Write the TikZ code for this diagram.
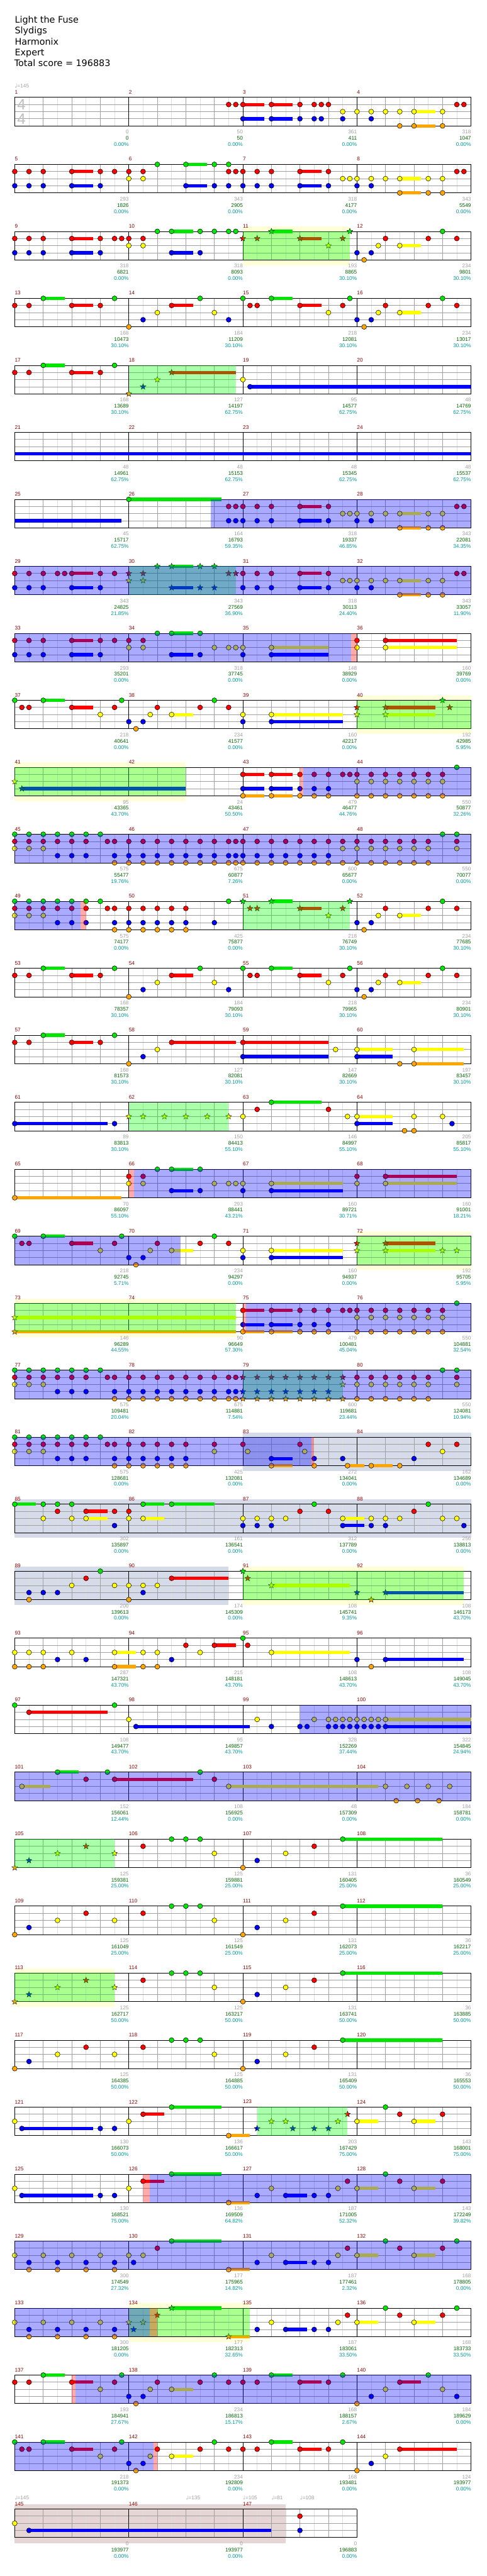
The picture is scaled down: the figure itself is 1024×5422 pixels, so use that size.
\documentclass[tikz,border=0pt]{standalone}
\usepackage{fontspec}
\setmainfont{Liberation Sans}
\newfontfamily\djv{DejaVu Sans}
\usetikzlibrary{shapes.geometric}
\definecolor{cG}{RGB}{0,230,0}
\definecolor{cR}{RGB}{255,0,0}
\definecolor{cY}{RGB}{255,255,0}
\definecolor{cB}{RGB}{0,0,255}
\definecolor{cO}{RGB}{255,165,0}
\definecolor{lgray}{RGB}{160,160,160}
\definecolor{dgreen}{RGB}{0,100,0}
\definecolor{tealc}{RGB}{0,153,153}
\definecolor{mred}{RGB}{139,0,0}
\definecolor{hbc}{RGB}{222,222,222}
\definecolor{btc}{RGB}{160,160,160}
\definecolor{band}{RGB}{255,255,215}
\definecolor{gband}{RGB}{213,219,232}
\definecolor{rband}{RGB}{230,213,213}
\definecolor{tsg}{RGB}{190,190,190}
\tikzset{
  hb/.style={draw=hbc,line width=1},
  bt/.style={draw=btc,line width=1},
  ms/.style={draw=black,line width=1},
  mnum/.style={anchor=west,inner sep=0,text=mred,font=\fontsize{11}{11}\selectfont},
  lg/.style={anchor=east,inner sep=0,text=lgray,font=\fontsize{11}{11}\selectfont},
  lgr/.style={anchor=east,inner sep=0,text=dgreen,font=\fontsize{11}{11}\selectfont},
  ltl/.style={anchor=east,inner sep=0,text=tealc,font=\fontsize{11}{11}\selectfont},
  stn/.style={star,star points=5,star point ratio=2.3,minimum size=13pt,inner sep=0,draw=black,line width=0.5},
  ttl/.style={anchor=base west,inner sep=0,font=\djv\fontsize{19}{19}\selectfont},
  tmp/.style={anchor=west,inner sep=0,text=lgray,font=\fontsize{11}{11}\selectfont}
}
\newcommand\setrow[1]{\pgfmathsetmacro\ry{205+141*(#1-1)}}
\newcommand\mkgrid[2]{%
 \pgfmathsetmacro\xe{31+240*#1}%
 \pgfmathtruncatemacro\nh{8*#1-1}%
 \foreach \i in {1,...,\nh} {\draw[hb] ({31+30*\i},{\ry}) -- ++(0,60);}%
 \pgfmathtruncatemacro\nb{4*#1-1}%
 \foreach \i in {1,...,\nb} {\draw[bt] ({31+60*\i},{\ry}) -- ++(0,60);}%
 \foreach \l in {1,2,3} {\draw[bt] (31,{\ry+15*\l}) -- ({\xe},{\ry+15*\l});}%
 \foreach \i in {0,...,#1} {\draw[ms] ({31+240*\i},{\ry}) -- ++(0,60);}%
 \draw[ms] (31,{\ry}) -- ({\xe},{\ry}) (31,{\ry+60}) -- ({\xe},{\ry+60});%
 \pgfmathtruncatemacro\nm{#1-1}%
 \foreach \i in {0,...,\nm} {\pgfmathtruncatemacro\mn{#2+\i}\node[mnum] at ({31+240*\i},{\ry-11}) {\mn};}%
}
\newcommand\bnd[3]{\fill[#1] ({31+15*#2},{\ry-10}) rectangle ({31+15*#3},{\ry+71});}
\newcommand\ovb[2]{\fill[blue,fill opacity=0.333] ({31+15*#1},{\ry}) rectangle ({31+15*#2},{\ry+60});}
\newcommand\ovg[2]{\fill[green,fill opacity=0.333] ({31+15*#1},{\ry}) rectangle ({31+15*#2},{\ry+60});}
\newcommand\ovp[2]{\fill[red,fill opacity=0.333] ({31+15*#1},{\ry}) rectangle ({31+15*#2},{\ry+60});}
\newcommand\sus[4]{\fill[#1] ({31+15*#3},{\ry+15*#2-3.5}) rectangle ({31+15*#4},{\ry+15*#2+3.5});}
\newcommand\nts[3]{\foreach \s in {#3} {\filldraw[fill=#1,draw=black,line width=0.7] ({31+15*\s},{\ry+15*#2}) circle (5.2);}}
\newcommand\strs[3]{\foreach \s in {#3} {\node[stn,fill=#1] at ({31+15*\s},{\ry+15*#2}) {};}}
\newcommand\lbls[1]{\foreach \a/\b/\c [count=\k] in {#1} {%
  \node[lg] at ({31+240*\k},{\ry+73}) {\a};
  \node[lgr] at ({31+240*\k},{\ry+86}) {\b};
  \node[ltl] at ({31+240*\k},{\ry+99}) {\c\%};}}
\newcommand\rowFour{%
 \sus{cG}{0}{4}{7}\sus{cG}{0}{36}{39}\sus{cR}{1}{8}{11}\sus{cR}{1}{22}{25}\sus{cR}{1}{40}{43}\sus{cY}{2}{54}{57}%
 \nts{cG}{0}{4,14,26,32,36,47,60}%
 \nts{cR}{1}{0,2,8,12,22,33,34,40,46,52,58,62}%
 \nts{cY}{2}{20,28,44,51,54}%
 \nts{cB}{3}{18,30,48,50}%
 \nts{cO}{4}{16,49}}
\newcommand\rowStarA{%
 \sus{cG}{0}{46}{60}%
 \strs{cO}{4}{0}\strs{cB}{3}{2}\strs{cY}{2}{6,14}\strs{cR}{1}{10}%
 \nts{cR}{1}{18,42}\nts{cG}{0}{22,24,26,46}\nts{cY}{2}{28,38}\nts{cO}{4}{32}\nts{cB}{3}{34}%
 \ovg{0}{14}}
\newcommand\rowPlainA{%
 \sus{cG}{0}{46}{60}%
 \nts{cO}{4}{0,32}\nts{cB}{3}{2,34}\nts{cY}{2}{6,14,28,38}\nts{cR}{1}{10,18,42}\nts{cG}{0}{22,24,26,46}}
\begin{document}
\begin{tikzpicture}[x=1pt,y=-1pt]
\useasboundingbox (0,0) rectangle (1024,5422);
\fill[white] (0,0) rectangle (1024,5422);
\node[ttl] (t1) at (31,48) {Light the Fuse};
\node[ttl] (t2) at (31,71) {Slydigs};
\node[ttl] (t3) at (31,94) {Harmonix};
\node[ttl] (t4) at (31,117) {Expert};
\node[ttl] (t5) at (30,140) {Total score = 196883};
% row 1
\setrow{1}\mkgrid{4}{1}
\node[tmp] (tempo1) at (31,{\ry-24}) {{\djv ♩}=145};
\node[text=tsg,font=\fontsize{32}{32}\selectfont,inner sep=0] (ts1) at (45,{\ry+15}) {4};
\node[text=tsg,font=\fontsize{32}{32}\selectfont,inner sep=0] (ts2) at (45,{\ry+45}) {4};
\sus{cR}{1}{32}{35}\sus{cR}{1}{36}{39}\sus{cY}{2}{56}{59}\sus{cB}{3}{32}{35}\sus{cB}{3}{36}{39}\sus{cO}{4}{56}{59}
\nts{cR}{1}{30,31,32,36,40,42,43,44,62,63}
\nts{cY}{2}{46,48,50,52,54,56,60}
\nts{cB}{3}{32,36,40,42,43,46,50}
\nts{cO}{4}{54,56,60}
\lbls{0/0/0.00,50/50/0.00,361/411/0.00,318/1047/0.00}
% row 2
\setrow{2}\mkgrid{4}{5}
\sus{cR}{1}{8}{11}\sus{cR}{1}{40}{43}\sus{cB}{3}{8}{11}\sus{cB}{3}{24}{27}\sus{cB}{3}{40}{43}\sus{cG}{0}{24}{27}\sus{cY}{2}{54}{57}\sus{cO}{4}{54}{57}
\nts{cG}{0}{20,24,28,30}
\nts{cR}{1}{0,2,4,8,12,14,16,18,30,31,32,34,36,40,44,62,63}
\nts{cY}{2}{16,18,46,47,48,50,52,54,58,60}
\nts{cB}{3}{0,2,4,8,12,24,28,30,32,34,36,40,44,48,50}
\nts{cO}{4}{54,58,60}
\lbls{293/1826/0.00,343/2905/0.00,318/4177/0.00,343/5549/0.00}
% row 3
\setrow{3}\bnd{band}{32}{47}\mkgrid{4}{9}
\sus{cR}{1}{8}{11}\sus{cR}{1}{40}{43}\sus{cB}{3}{8}{11}\sus{cB}{3}{22}{25}\sus{cG}{0}{22}{25}\sus{cG}{0}{36}{39}\sus{cY}{2}{54}{57}
\nts{cG}{0}{20,22,26,28,30,31,60}
\strs{cG}{0}{36,47}
\nts{cR}{1}{0,2,4,8,12,14,15,16,18,52,58,62}
\strs{cR}{1}{32,34,40,46}
\nts{cY}{2}{16,18,51,54}
\strs{cY}{2}{44}
\nts{cB}{3}{0,2,4,8,12,22,26,48,50}
\nts{cO}{4}{49}
\ovg{32}{47}
\lbls{318/6821/0.00,318/8093/0.00,193/8865/30.10,234/9801/30.10}
% row 4
\setrow{4}\mkgrid{4}{13}
\rowFour
\lbls{168/10473/30.10,184/11209/30.10,218/12081/30.10,234/13017/30.10}
% row 5
\setrow{5}\mkgrid{4}{17}
\sus{cG}{0}{4}{7}\sus{cR}{1}{8}{11}\sus{cR}{1}{22}{31}\sus{cB}{3}{33}{64}
\nts{cG}{0}{4,14}
\nts{cR}{1}{0,2,8,12}
\strs{cR}{1}{22}\strs{cY}{2}{20}
\nts{cY}{2}{32}
\strs{cB}{3}{18}
\nts{cB}{3}{33}
\strs{cO}{4}{16}
\ovg{16}{31}
\lbls{168/13689/30.10,127/14197/62.75,95/14577/62.75,48/14769/62.75}
% row 6
\setrow{6}\mkgrid{4}{21}
\sus{cB}{3}{0}{64}
\lbls{48/14961/62.75,48/15153/62.75,48/15345/62.75,48/15537/62.75}
% row 7
\setrow{7}\mkgrid{4}{25}
\sus{cB}{3}{0}{15}\sus{cG}{0}{16}{29}\sus{cR}{1}{40}{43}\sus{cB}{3}{40}{43}\sus{cY}{2}{54}{57}\sus{cO}{4}{54}{57}
\nts{cG}{0}{16}
\nts{cR}{1}{30,31,32,34,36,40,44,62,63}
\nts{cY}{2}{46,47,48,50,52,54,58,60}
\nts{cB}{3}{30,31,32,34,36,40,44,48,50}
\nts{cO}{4}{54,58,60}
\ovb{27.5}{64}
\lbls{45/15717/62.75,164/16793/59.35,318/19337/46.85,343/22081/34.35}
% row 8
\setrow{8}\mkgrid{4}{29}
\sus{cR}{1}{8}{11}\sus{cR}{1}{40}{43}\sus{cB}{3}{8}{11}\sus{cB}{3}{22}{25}\sus{cB}{3}{40}{43}\sus{cG}{0}{22}{25}\sus{cY}{2}{54}{57}\sus{cO}{4}{54}{57}
\nts{cR}{1}{0,2,4,6,7,8,12,14,32,34,36,40,44,62,63}
\strs{cR}{1}{16,18,30,31}
\strs{cY}{2}{16,18}
\nts{cY}{2}{46,47,48,50,52,54,58,60}
\strs{cG}{0}{20,22,26,28}
\nts{cB}{3}{0,2,4,8,12,32,34,36,40,44,48,50}
\strs{cB}{3}{22,26,28}
\nts{cO}{4}{54,58,60}
\ovg{16}{31}\ovb{0}{64}
\lbls{343/24825/21.85,343/27569/36.90,318/30113/24.40,343/33057/11.90}
% row 9
\setrow{9}\mkgrid{4}{33}
\sus{cR}{1}{8}{11}\sus{cR}{1}{52}{62}\sus{cY}{2}{36}{44}\sus{cY}{2}{52}{62}\sus{cG}{0}{22}{25}\sus{cB}{3}{8}{11}\sus{cB}{3}{22}{25}\sus{cB}{3}{36}{44}
\nts{cR}{1}{0,2,4,8,12,14,16,18,48,52}
\nts{cY}{2}{16,18,28,30,31,32,36,48,52}
\nts{cG}{0}{20,22,26}
\nts{cB}{3}{0,2,4,8,12,22,26,32,36}
\ovb{0}{47.2}\ovp{47.2}{48}
\lbls{293/35201/0.00,318/37745/0.00,148/38929/0.00,160/39769/0.00}
% row 10
\setrow{10}\bnd{band}{48}{64}\mkgrid{4}{37}
\sus{cG}{0}{4}{7}\sus{cR}{1}{8}{11}\sus{cY}{2}{22}{25}\sus{cY}{2}{36}{46}\sus{cB}{3}{36}{46}\sus{cR}{1}{52}{59}\sus{cY}{2}{52}{59}
\nts{cG}{0}{0,4,15,28}
\strs{cG}{0}{60}
\nts{cR}{1}{1,2,8,14,20,26,30}
\strs{cR}{1}{48,52,61}
\nts{cY}{2}{12,19,22,32,36}
\strs{cY}{2}{48,52}
\nts{cB}{3}{16,18,32,36}
\nts{cO}{4}{17}
\ovg{48}{64}
\lbls{218/40641/0.00,234/41577/0.00,160/42217/0.00,192/42985/5.95}
% row 11
\setrow{11}\bnd{band}{0}{24}\mkgrid{4}{41}
\sus{cB}{3}{1}{24}\sus{cR}{1}{32}{35}\sus{cR}{1}{36}{39}\sus{cB}{3}{32}{35}\sus{cB}{3}{36}{39}\sus{cO}{4}{32}{35}\sus{cO}{4}{36}{39}
\strs{cY}{2}{0}\strs{cB}{3}{1}
\nts{cR}{1}{32,36,40,42,44,46,47,48,50,52,54,56,58,60}
\nts{cB}{3}{32,36,40,42,44}
\nts{cO}{4}{32,36,40,42,44,48,50,52,54,56,58,60}
\nts{cY}{2}{48,50,52,54,56,58,60}
\nts{cG}{0}{62}
\ovg{0}{24}\ovp{40}{40.5}\ovb{40.5}{64}
\lbls{95/43365/43.70,24/43461/50.50,479/46477/44.76,550/50877/32.26}
% row 12
\setrow{12}\mkgrid{4}{45}
\nts{cG}{0}{0,2,4,6,8,10,12,60,62}
\nts{cR}{1}{0,2,4,6,8,10,13,14,16,18,20,22,24,26,28,30,31,32,34,36,38,40,42,44,46,48,50,52,54,56,58,62}
\nts{cY}{2}{0,2,4,46,48,50,52,54,56,58,62}
\nts{cB}{3}{6,8,10,14,16,18,20,22,24,26,28,30,31,32,34,36,38,40,42,44}
\nts{cO}{4}{14,16,18,20,22,24,26,28,30,31,32,34,36,38,40,42,44,46,48,50,52,54,56,58}
\ovb{0}{64}
\lbls{575/55477/19.76,675/60877/7.26,600/65677/0.00,550/70077/0.00}
% row 13
\setrow{13}\mkgrid{4}{49}
\sus{cG}{0}{36}{39}\sus{cR}{1}{40}{43}\sus{cY}{2}{54}{57}
\nts{cG}{0}{0,2,4,6,8,10,12,30,60}
\strs{cG}{0}{32,36,47}
\nts{cR}{1}{0,2,4,6,8,10,13,14,16,18,20,22,24,52,58,62}
\strs{cR}{1}{33,34,40,46}
\nts{cY}{2}{0,2,4,51,54}
\strs{cY}{2}{44}
\nts{cB}{3}{6,8,10,14,16,18,20,22,24,28,48,50}
\nts{cO}{4}{14,16,18,20,22,24,49}
\ovg{32}{47}\ovb{0}{9.27}\ovp{9.27}{10}
\lbls{575/74177/0.00,425/75877/0.00,218/76749/30.10,234/77685/30.10}
% row 14
\setrow{14}\mkgrid{4}{53}
\rowFour
\lbls{168/78357/30.10,184/79093/30.10,218/79965/30.10,234/80901/30.10}
% row 15
\setrow{15}\mkgrid{4}{57}
\sus{cG}{0}{4}{7}\sus{cR}{1}{8}{11}\sus{cR}{1}{22}{31}\sus{cR}{1}{32}{44}\sus{cY}{2}{48}{53}\sus{cY}{2}{56}{63}\sus{cB}{3}{32}{44}\sus{cB}{3}{48}{53}\sus{cO}{4}{56}{63}
\nts{cG}{0}{4,14}
\nts{cR}{1}{0,2,8,12,22,32}
\nts{cY}{2}{20,45,48,56}
\nts{cB}{3}{18,32,48}
\nts{cO}{4}{16,54,56}
\lbls{168/81573/30.10,127/82081/30.10,147/82669/30.10,197/83457/30.10}
% row 16
\setrow{16}\mkgrid{4}{61}
\sus{cB}{3}{0}{13}\sus{cG}{0}{36}{43}\sus{cY}{2}{48}{53}\sus{cB}{3}{48}{53}
\nts{cB}{3}{0,14,48,61.33}
\strs{cY}{2}{16,18,21,24,27,30}
\nts{cY}{2}{32,46.67,48,56,60}
\nts{cR}{1}{34,44}
\nts{cG}{0}{36}
\nts{cO}{4}{54.67,56}
\ovg{16}{30}
\lbls{89/83813/30.10,150/84413/55.10,146/84997/55.10,205/85817/55.10}
% row 17
\setrow{17}\mkgrid{4}{65}
\sus{cO}{4}{0}{15}\sus{cG}{0}{22}{25}\sus{cR}{1}{52}{62}\sus{cY}{2}{36}{46}\sus{cY}{2}{52}{62}\sus{cB}{3}{22}{25}\sus{cB}{3}{36}{46}
\nts{cO}{4}{0}
\nts{cR}{1}{16,18,48,52}
\nts{cG}{0}{20,22,26}
\nts{cY}{2}{16,18,28,30,31,32,36,48,52}
\nts{cB}{3}{22,26,32,36}
\ovp{16}{16.75}\ovb{16.75}{64}
\lbls{70/86097/55.10,293/88441/43.21,160/89721/30.71,160/91001/18.21}
% row 18
\setrow{18}\bnd{band}{48}{64}\mkgrid{4}{69}
\sus{cG}{0}{4}{7}\sus{cR}{1}{8}{11}\sus{cY}{2}{22}{25}\sus{cY}{2}{36}{46}\sus{cB}{3}{36}{46}\sus{cR}{1}{52}{59}\sus{cY}{2}{52}{59}
\nts{cG}{0}{0,4,15,28}
\nts{cR}{1}{1,2,8,14,20,26,30}
\strs{cR}{1}{48,52}
\nts{cY}{2}{12,19,22,32,36}
\strs{cY}{2}{48,52,60,62}
\nts{cB}{3}{16,18,32,36}
\nts{cO}{4}{17}
\ovg{48}{64}\ovb{0}{23.3}
\lbls{218/92745/5.71,234/94297/0.00,160/94937/0.00,192/95705/5.95}
% row 19
\setrow{19}\bnd{band}{0}{31}\mkgrid{4}{73}
\sus{cY}{2}{0}{31}\sus{cO}{4}{0}{31}
\sus{cR}{1}{32}{35}\sus{cR}{1}{36}{39}\sus{cB}{3}{32}{35}\sus{cB}{3}{36}{39}\sus{cO}{4}{32}{35}\sus{cO}{4}{36}{39}
\strs{cY}{2}{0}\strs{cO}{4}{0}
\nts{cR}{1}{32,36,40,42,44,46,47,48,50,52,54,56,58,60}
\nts{cB}{3}{32,36,40,42,44}
\nts{cO}{4}{32,36,40,42,44,48,50,52,54,56,58,60}
\nts{cY}{2}{48,50,52,54,56,58,60}
\nts{cG}{0}{62}
\ovg{0}{31}\ovp{32}{32.4}\ovb{32.4}{64}
\lbls{146/96289/44.55,90/96649/57.30,479/100481/45.04,550/104881/32.54}
% row 20
\setrow{20}\mkgrid{4}{77}
\nts{cG}{0}{0,2,4,6,8,10,12,60,62}
\nts{cR}{1}{0,2,4,6,8,10,13,14,16,18,20,22,24,26,28,30,31,48,50,52,54,56,58,62}
\strs{cR}{1}{32,34,36,38,40,42,44,46}
\nts{cY}{2}{0,2,4,48,50,52,54,56,58,62}
\strs{cY}{2}{46}
\nts{cB}{3}{6,8,10,14,16,18,20,22,24,26,28,30,31}
\strs{cB}{3}{32,34,36,38,40,42,44}
\nts{cO}{4}{14,16,18,20,22,24,26,28,30,31,48,50,52,54,56,58}
\strs{cO}{4}{32,34,36,38,40,42,44,46}
\ovg{32}{46}\ovb{0}{64}
\lbls{575/109481/20.04,675/114881/7.54,600/119681/23.44,550/124081/10.94}
% row 21
\setrow{21}\bnd{gband}{32}{64}\mkgrid{4}{81}
\sus{cB}{3}{36}{39}\sus{cO}{4}{36}{39}\sus{cO}{4}{46.67}{49}\sus{cO}{4}{50}{53}
\nts{cG}{0}{0,2,4,6,8,10,12}
\nts{cR}{1}{0,2,4,6,8,10,13,14,16,18,20,22,24,28,32,40,58,62}
\nts{cY}{2}{0,2,4,28,32.67,40.67,60}
\nts{cB}{3}{6,8,10,14,16,18,20,22,24,36,42,46,56}
\nts{cO}{4}{14,16,18,20,22,24,36,42,46.67,50,54}
\ovb{0}{41.6}\ovp{41.6}{42}
\lbls{575/128681/0.00,425/132081/0.00,272/134041/0.00,162/134689/0.00}
% row 22
\setrow{22}\bnd{gband}{0}{64}\mkgrid{4}{85}
\sus{cG}{0}{0}{3}\sus{cG}{0}{18}{21}\sus{cG}{0}{22}{28}\sus{cR}{1}{10}{13}\sus{cY}{2}{10}{13}\sus{cY}{2}{18}{21}\sus{cY}{2}{46}{49}\sus{cB}{3}{46}{49}
\nts{cG}{0}{0,4,6,8,18,22,42,58}
\nts{cR}{1}{6,10,14,16,40,44,56}
\nts{cY}{2}{4,8,10,16,18,32,34,36,38,46,50,52,54,60,62}
\nts{cB}{3}{14,32,34,36,46,50,52,63}
\lbls{302/135897/0.00,161/136541/0.00,312/137789/0.00,256/138813/0.00}
% row 23
\setrow{23}\bnd{gband}{0}{30}\bnd{band}{32}{63}\mkgrid{4}{89}
\sus{cR}{1}{22}{30}\sus{cY}{2}{36}{47}\sus{cB}{3}{52}{63}
\nts{cB}{3}{2,4,6,18}
\nts{cO}{4}{2,16}
\nts{cY}{2}{8,14,16,18,20}
\nts{cR}{1}{10,22}
\nts{cG}{0}{12}
\strs{cG}{0}{32}\strs{cR}{1}{32.67}\strs{cY}{2}{36}\strs{cB}{3}{48,52}\strs{cO}{4}{50}
\ovg{32}{63}
\lbls{200/139613/0.00,174/145309/0.00,108/145741/9.35,108/146173/43.70}
% row 24
\setrow{24}\mkgrid{4}{93}
\sus{cY}{2}{14}{17}\sus{cO}{4}{14}{17}\sus{cR}{1}{28}{31}\sus{cY}{2}{36}{47}\sus{cB}{3}{52}{63}
\nts{cY}{2}{0,2,4,8,14,18,20,26,36}
\nts{cO}{4}{0,2,4,14,18,20,50}
\nts{cB}{3}{6,10,22,48,52}
\nts{cR}{1}{24,28,32.67}
\nts{cG}{0}{32}
\lbls{287/147321/43.70,215/148181/43.70,108/148613/43.70,108/149045/43.70}
% row 25
\setrow{25}\mkgrid{4}{97}
\sus{cR}{1}{2}{13}\sus{cB}{3}{17}{33}\sus{cY}{2}{52}{64}\sus{cB}{3}{52}{64}
\nts{cG}{0}{0,14}
\nts{cR}{1}{2}
\nts{cY}{2}{16,34,42,44,45,46,47,48,49,50,51,52}
\nts{cB}{3}{17,36,40,41,44,45,46,47,48,49,50,51,52}
\ovb{40}{64}
\lbls{108/149477/43.70,95/149857/43.70,328/152269/37.44,322/154845/24.94}
% row 26
\setrow{26}\mkgrid{4}{101}
\sus{cY}{2}{1}{5}\sus{cG}{0}{6}{9}\sus{cR}{1}{14}{25}\sus{cY}{2}{30}{51}
\nts{cY}{2}{1,30,52,55,58,61}
\nts{cG}{0}{6,13,26}
\nts{cR}{1}{10,14,28}
\nts{cO}{4}{53.5,56.5,59.5}
\ovb{0}{64}
\lbls{152/156061/12.44,108/156925/0.00,48/157309/0.00,184/158781/0.00}
% row 27
\setrow{27}\mkgrid{4}{105}
\rowStarA
\lbls{125/159381/25.00,125/159881/25.00,131/160405/25.00,36/160549/25.00}
% row 28
\setrow{28}\mkgrid{4}{109}
\rowPlainA
\lbls{125/161049/25.00,125/161549/25.00,131/162073/25.00,36/162217/25.00}
% row 29
\setrow{29}\bnd{band}{0}{14}\mkgrid{4}{113}
\rowStarA
\lbls{125/162717/50.00,125/163217/50.00,131/163741/50.00,36/163885/50.00}
% row 30
\setrow{30}\mkgrid{4}{117}
\rowPlainA
\lbls{125/164385/50.00,125/164885/50.00,131/165409/50.00,36/165553/50.00}
% row 31
\setrow{31}\mkgrid{4}{121}
\sus{cB}{3}{1}{11}\sus{cR}{1}{18}{21}\sus{cG}{0}{22}{29}\sus{cO}{4}{30}{33}\sus{cY}{2}{48}{51}\sus{cY}{2}{56}{59}
\nts{cY}{2}{0,16,48,56}
\nts{cB}{3}{1,12,14}
\nts{cR}{1}{18,54,60}
\nts{cG}{0}{22,52}
\nts{cO}{4}{30}
\strs{cB}{3}{34,39,42,44}\strs{cY}{2}{36,38,45.33}\strs{cR}{1}{46.67}
\ovg{34}{46.67}
\lbls{130/166073/50.00,136/166617/50.00,203/167429/75.00,143/168001/75.00}
% row 32
\setrow{32}\mkgrid{4}{125}
\sus{cB}{3}{1}{11}\sus{cR}{1}{18}{21}\sus{cG}{0}{22}{29}\sus{cO}{4}{30}{33}\sus{cB}{3}{38}{41}\sus{cY}{2}{48}{51}\sus{cY}{2}{56}{59}
\nts{cY}{2}{0,16,36,45.33,48,56}
\nts{cB}{3}{1,12,14,34,38,42,44}
\nts{cR}{1}{18,46.67,54,60}
\nts{cG}{0}{22,52}
\nts{cO}{4}{30}
\ovp{18}{18.9}\ovb{18.9}{64}
\lbls{130/168521/75.00,136/169509/64.82,187/171005/52.32,143/172249/39.82}
% row 33
\setrow{33}\mkgrid{4}{129}
\sus{cG}{0}{22}{29}\sus{cO}{4}{30}{33}\sus{cB}{3}{38}{41}\sus{cY}{2}{48}{51}\sus{cY}{2}{56}{59}
\nts{cY}{2}{0,4,8,12,16,18,36,45.33,48,56}
\nts{cB}{3}{2,6,10,14,16.67,34,38,42,44}
\nts{cO}{4}{2,6,10,14,30}
\nts{cR}{1}{20,46.67,54,60}
\nts{cG}{0}{22,52,62}
\ovb{0}{64}
\lbls{300/174549/27.32,177/175965/14.82,187/177461/2.32,168/178805/0.00}
% row 34
\setrow{34}\bnd{band}{16}{33}\mkgrid{4}{133}
\sus{cG}{0}{22}{29}\sus{cO}{4}{30}{33}\sus{cB}{3}{38}{41}\sus{cY}{2}{48}{51}\sus{cY}{2}{56}{59}
\nts{cY}{2}{0,4,8,12,36,45.33,48,56}
\strs{cY}{2}{16,18}
\nts{cB}{3}{2,6,10,14,34,38,42,44}
\strs{cB}{3}{16.67}
\nts{cO}{4}{2,6,10,14}
\strs{cO}{4}{30}
\strs{cR}{1}{20}
\nts{cR}{1}{46.67,54,60}
\strs{cG}{0}{22}
\nts{cG}{0}{52,62}
\ovg{16}{33}\ovp{18.9}{20}\ovb{0}{18.9}
\lbls{300/181205/0.00,177/182313/32.65,187/183061/33.50,168/183733/33.50}
% row 35
\setrow{35}\mkgrid{4}{137}
\sus{cG}{0}{4}{7}\sus{cR}{1}{8}{11}\sus{cY}{2}{22}{25}\sus{cG}{0}{36}{39}\sus{cR}{1}{40}{43}\sus{cR}{1}{54}{57}
\nts{cR}{1}{0,2,8,14,20,26,30,32,34,40,44,54}
\nts{cG}{0}{4,15,28,36,46,58}
\nts{cY}{2}{12,19,22,52,60}
\nts{cB}{3}{16,18,50,62}
\nts{cO}{4}{17,48}
\ovp{8}{8.5}\ovb{8.5}{64}
\lbls{193/184941/27.67,234/186813/15.17,168/188157/2.67,184/189629/0.00}
% row 36
\setrow{36}\mkgrid{4}{141}
\sus{cG}{0}{4}{7}\sus{cR}{1}{8}{11}\sus{cY}{2}{22}{25}\sus{cG}{0}{36}{39}\sus{cR}{1}{40}{43}\sus{cR}{1}{54}{62}
\nts{cG}{0}{0,4,15,28,36,46}
\nts{cR}{1}{1,2,8,14,20,26,30,32,34,40,44,54}
\nts{cY}{2}{12,19,22,52}
\nts{cB}{3}{16,18,50}
\nts{cO}{4}{17,48}
\ovb{0}{19.5}\ovp{19.5}{20}
\lbls{218/191373/0.00,234/192809/0.00,168/193481/0.00,124/193977/0.00}
% row 37
\setrow{37}\fill[rband] (31,{\ry-10}) rectangle (601,{\ry+72});
\mkgrid{3}{145}
\node[tmp] (tempo2) at (31,{\ry-24}) {{\djv ♩}=145};
\node[tmp] (tempo3) at (391,{\ry-24}) {{\djv ♩}=135};
\node[tmp] (tempo4) at (511,{\ry-24}) {{\djv ♩}=105};
\node[tmp] (tempo5) at (571,{\ry-24}) {{\djv ♩}=81};
\node[tmp] (tempo6) at (631,{\ry-24}) {{\djv ♩}=108};
\sus{cB}{3}{2}{36}
\nts{cY}{2}{0}
\nts{cB}{3}{2,40}
\nts{cR}{1}{40}
\lbls{0/193977/0.00,0/193977/0.00,0/196883/0.00}
\end{tikzpicture}
\end{document}
